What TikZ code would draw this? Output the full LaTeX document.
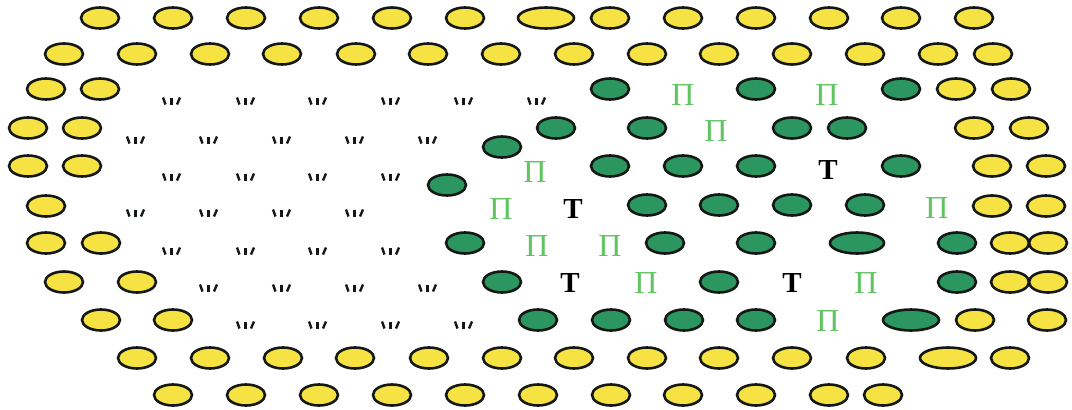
\documentclass[tikz,border=0pt]{standalone}
\usepackage{fontspec}
\setmainfont{Liberation Serif}
\definecolor{yel}{RGB}{246,226,66}
\definecolor{grn}{RGB}{44,150,96}
\definecolor{lgr}{RGB}{96,196,96}
\definecolor{edge}{RGB}{20,24,20}
\begin{document}
\begin{tikzpicture}[x=1pt,y=-1pt,
  yelo/.style={fill=yel,draw=edge,line width=2.6pt},
  grno/.style={fill=grn,draw=edge,line width=2.6pt},
  pletter/.style={text=lgr,inner sep=0pt,font=\fontsize{32}{32}\selectfont},
  tletter/.style={text=black,inner sep=0pt,font=\bfseries\fontsize{29}{29}\selectfont},
  tick/.style={draw=edge,line width=2.4pt}]
\useasboundingbox (0,0) rectangle (1072,410);
% yellow ellipses
\foreach \y/\xs in {18/{100,173,246,319,392,465,610,683,756,829,901,974},
  54/{64,137,210,282,356,428,501,574,647,719,792,865,938,993},
  89/{46,100,956,1011},
  128/{28,82,974,1029},
  166/{28,82,992,1046},
  206/{46,992,1046},
  243/{46,101,1010,1048},
  282/{64,137,1010,1048},
  320/{101,173,975,1047},
  358/{137,210,283,355,429,502,574,647,719,792,866,1010},
  395/{173,246,319,392,465,538,611,683,756,829,883}}
  \foreach \x in \xs {\draw[yelo] (\x,\y) ellipse [x radius=19pt, y radius=10.5pt];}
\draw[yelo] (546,18) ellipse [x radius=28pt, y radius=10.5pt];
\draw[yelo] (948,358) ellipse [x radius=28pt, y radius=10.5pt];
% green ellipses
\foreach \y/\xs in {89/{610,756,901},
  128/{556,647,792,847},
  147/{502},
  185/{447},
  166/{610,683,756,901},
  205/{647,719,792,865},
  243/{465,665,756,957},
  282/{502,719,957},
  320/{538,611,684,756}}
  \foreach \x in \xs {\draw[grno] (\x,\y) ellipse [x radius=19pt, y radius=10.5pt];}
\draw[grno] (857,243) ellipse [x radius=27pt, y radius=10.5pt];
\draw[grno] (911,320) ellipse [x radius=28pt, y radius=10.5pt];
% tick marks
\foreach \y/\xs in {101/{172,246,318,391,464,537},
  140/{136,209,282,355,428},
  177/{172,246,318,391},
  213/{136,209,282,355},
  251/{172,246,318,391},
  288/{209,282,355,428},
  325/{246,318,391,464}}
  \foreach \x in \xs {
    \draw[tick] (\x-9,\y-3.5) -- (\x-6.5,\y+3.5);
    \draw[tick] (\x-0.5,\y-3.5) -- (\x-0.5,\y+3.5);
    \draw[tick] (\x+8,\y-3.5) -- (\x+5,\y+3.5);
  }
% letters
\node[pletter] (p1) at (683,95) {П};
\node[pletter] (p2) at (827,95) {П};
\node[pletter] (p3) at (716,131) {П};
\node[pletter] (p4) at (535,172) {П};
\node[pletter] (p5) at (501,209) {П};
\node[pletter] (p6) at (937,208) {П};
\node[pletter] (p7) at (537,246) {П};
\node[pletter] (p8) at (610,246) {П};
\node[pletter] (p9) at (646,283) {П};
\node[pletter] (p10) at (866,283) {П};
\node[pletter] (p11) at (828,321) {П};
\node[tletter] (t1) at (573,209) {Т};
\node[tletter] (t2) at (828,170) {Т};
\node[tletter] (t3) at (570,283) {Т};
\node[tletter] (t4) at (792,283) {Т};
\end{tikzpicture}
\end{document}
